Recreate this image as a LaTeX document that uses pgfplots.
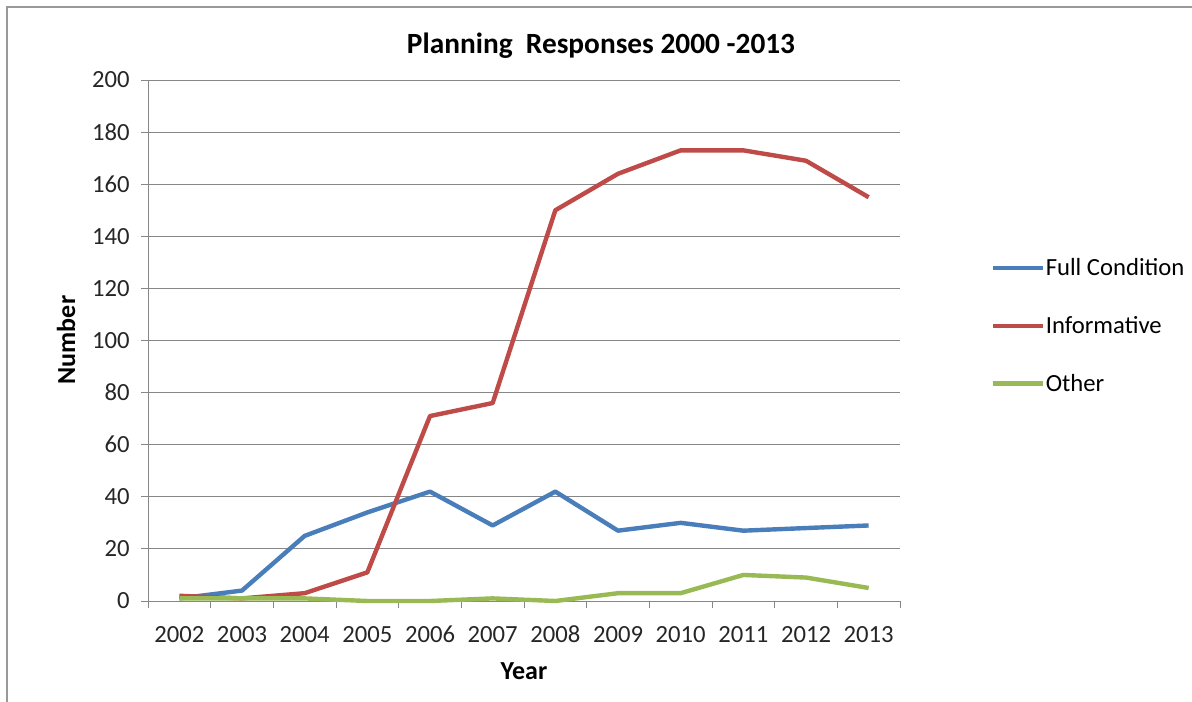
\documentclass[border=0pt]{standalone}
\usepackage{fontspec}
\setmainfont{Carlito}
\usepackage{pgfplots}
\pgfplotsset{compat=1.18}
\definecolor{cblue}{HTML}{4A7EBB}
\definecolor{cred}{HTML}{BE4B48}
\definecolor{cgreen}{HTML}{98B954}
\definecolor{cgrid}{HTML}{878787}
\begin{document}
\begin{tikzpicture}
\begin{scope}[x=0.75pt,y=-0.75pt]
\path[use as bounding box] (0,0) rectangle (1192,702);
\draw[color=cgrid!85, line width=1.5pt] (6.5,702) -- (6.5,7.5) -- (1192,7.5);
\node[font=\fontsize{22}{26}\selectfont\bfseries] at (601,46) {Planning\ \ Responses 2000 -2013};
\node[font=\fontsize{19.5}{23}\selectfont\bfseries] at (524,671) {Year};
\node[font=\fontsize{19.5}{23}\selectfont\bfseries, rotate=90] at (66,340) {Number};
\end{scope}
\begin{pgfinterruptboundingbox}
\begin{axis}[
  at={(111pt,-450.75pt)}, anchor=south west, scale only axis,
  width=564pt, height=390.75pt,
  xmin=-0.5, xmax=11.5, ymin=0, ymax=200,
  ytick={0,20,...,200},
  xtick={0,...,11},
  xticklabels={2002,2003,2004,2005,2006,2007,2008,2009,2010,2011,2012,2013},
  minor xtick={-0.5,0.5,...,11.5},
  /pgf/number format/assume math mode=true,
  tick label style={font=\fontsize{18.5}{21}\selectfont, text=black!85},
  yticklabel style={xshift=-5pt},
  xticklabel style={anchor=north, text height=13pt, text depth=0pt, yshift=-9pt},
  tick align=outside,
  x tick style={draw=none},
  minor x tick style={draw=cgrid, line width=0.75pt},
  y tick style={draw=cgrid, line width=0.75pt},
  major tick length=5.25pt,
  minor tick length=5.25pt,
  ymajorgrids,
  grid style={cgrid, line width=0.75pt},
  axis x line*=bottom, axis y line*=left,
  axis line style={-, cgrid, line width=0.75pt},
  clip=false,
  legend style={at={(1.115,0.528)}, anchor=west, draw=none, fill=none,
    font=\fontsize{18.5}{22}\selectfont, row sep=28pt,
    nodes={inner sep=0.5pt}},
  legend cell align=left,
  legend image code/.code={\draw[#1] (0pt,0pt) -- (37.5pt,0pt);},
  every axis plot/.append style={line width=3.3pt, line join=round},
]
\addplot[cblue, no markers] coordinates {(0,1) (1,4) (2,25) (3,34) (4,42) (5,29) (6,42) (7,27) (8,30) (9,27) (10,28) (11,29)};
\addlegendentry{Full Condition}
\addplot[cred, no markers] coordinates {(0,2) (1,1) (2,3) (3,11) (4,71) (5,76) (6,150) (7,164) (8,173) (9,173) (10,169) (11,155)};
\addlegendentry{Informative}
\addplot[cgreen, no markers] coordinates {(0,1) (1,1) (2,1) (3,0) (4,0) (5,1) (6,0) (7,3) (8,3) (9,10) (10,9) (11,5)};
\addlegendentry{Other}
\end{axis}
\end{pgfinterruptboundingbox}
\end{tikzpicture}
\end{document}
